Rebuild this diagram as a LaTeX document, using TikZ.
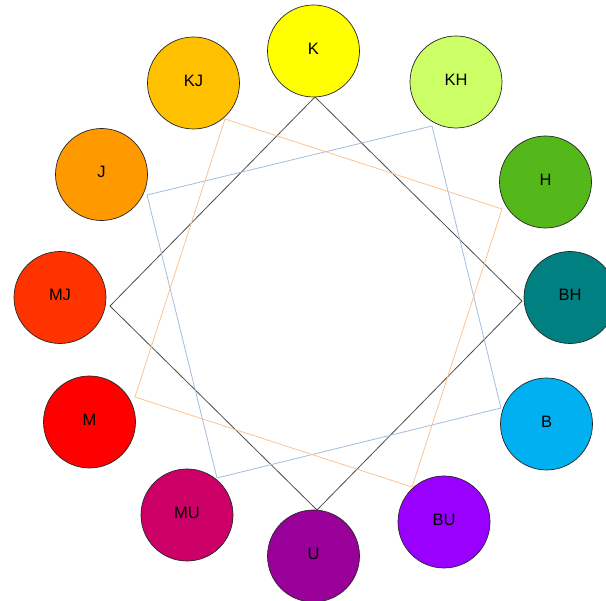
\documentclass[tikz,border=0pt]{standalone}
\usepackage{fontspec}
\setmainfont{Liberation Sans}
\definecolor{kuning}{HTML}{FFFF00}
\definecolor{kuninghijau}{HTML}{CCFF66}
\definecolor{hijau}{HTML}{55B81A}
\definecolor{biruhijau}{HTML}{008080}
\definecolor{biru}{HTML}{00B0F0}
\definecolor{biruungu}{HTML}{9900FF}
\definecolor{ungu}{HTML}{990099}
\definecolor{merahungu}{HTML}{CC0066}
\definecolor{merah}{HTML}{FF0000}
\definecolor{merahjingga}{HTML}{FF3300}
\definecolor{jingga}{HTML}{FF9900}
\definecolor{kuningjingga}{HTML}{FFC000}
\definecolor{garisbiru}{HTML}{A3BDDD}
\definecolor{garisjingga}{HTML}{FBC292}
\begin{document}
\begin{tikzpicture}[x=1pt, y=-1pt,
  warna/.style={draw=black!85, circle, minimum size=92pt, inner sep=0pt, line width=0.7pt,
    text height=12pt, text depth=5pt, font=\fontsize{16.5}{19}\selectfont},
  sisi/.style={line width=0.8pt}]
  \useasboundingbox (0,0) rectangle (606,601);
  \node[warna, fill=kuning] (k) at (313.5,51) {K};
  \node[warna, fill=kuninghijau] (kh) at (456,82) {KH};
  \node[warna, fill=hijau] (h) at (545.5,182) {H};
  \node[warna, fill=biruhijau] (bh) at (570,297.5) {BH};
  \node[warna, fill=biru] (b) at (546.5,424) {B};
  \node[warna, fill=biruungu] (bu) at (444,522) {BU};
  \node[warna, fill=ungu] (u) at (313.5,556) {U};
  \node[warna, fill=merahungu] (mu) at (187,515) {MU};
  \node[warna, fill=merah] (m) at (89.5,422) {M};
  \node[warna, fill=merahjingga] (mj) at (60,297.5) {MJ};
  \node[warna, fill=jingga] (j) at (101.5,174.5) {J};
  \node[warna, fill=kuningjingga] (kj) at (193.5,83) {KJ};
  % sudut persegi
  \coordinate (h1) at (315,97);
  \coordinate (h2) at (522,301);
  \coordinate (h3) at (317,510);
  \coordinate (h4) at (110,306);
  \coordinate (b1) at (147,195);
  \coordinate (b2) at (432,126);
  \coordinate (b3) at (501,408);
  \coordinate (b4) at (217,478);
  \coordinate (j1) at (225,119);
  \coordinate (j2) at (502,209);
  \coordinate (j3) at (412,487);
  \coordinate (j4) at (135,397);
  \draw[sisi, black!70] (h1) -- (h2) -- (h3) -- (h4) -- cycle;
  \draw[sisi, garisbiru] (b1) -- (b2) -- (b3) -- (b4) -- cycle;
  \draw[sisi, garisjingga] (j1) -- (j2) -- (j3) -- (j4) -- cycle;
\end{tikzpicture}
\end{document}
